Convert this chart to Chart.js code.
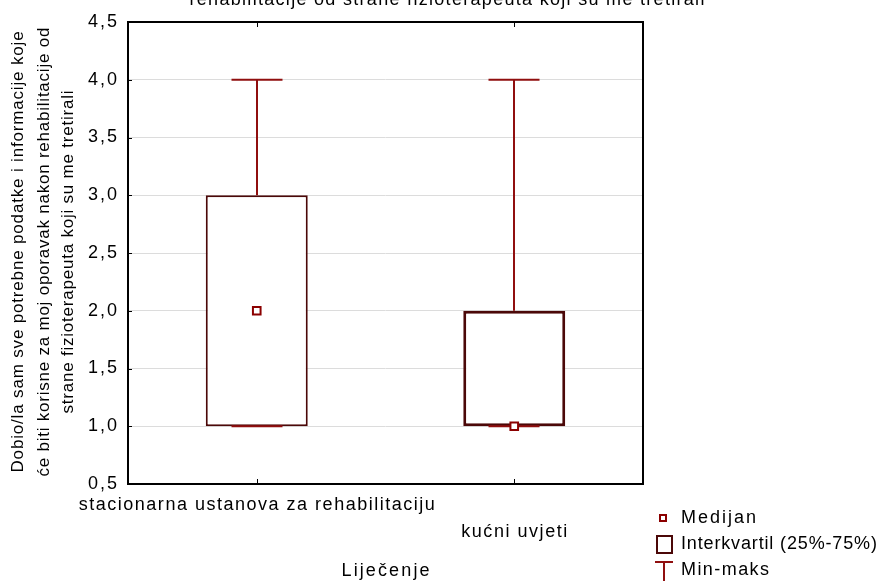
<!DOCTYPE html>
<html>
<head>
<meta charset="utf-8">
<script src="https://cdn.jsdelivr.net/npm/chart.js@4/dist/chart.umd.min.js"></script>
<style>
  html, body { margin: 0; padding: 0; background: #fff; }
  #wrap { width: 884px; height: 581px; }
</style>
</head>
<body>
<div id="wrap"><canvas id="c" width="884" height="581"></canvas></div>
<script>
// Categories and box-plot statistics
const categories = ['stacionarna ustanova za rehabilitaciju', 'kućni uvjeti'];
const minValues = [1, 1];
const q1Values = [1, 1];
const medianValues = [2, 1];
const q3Values = [3, 2];
const maxValues = [4, 4];

// Y axis
const yMin = 0.5;
const yMax = 4.5;
const yStep = 0.5;
const yTickLabels = ['0,5', '1,0', '1,5', '2,0', '2,5', '3,0', '3,5', '4,0', '4,5'];

// Texts
const chartTitle = 'rehabilitacije od strane fizioterapeuta koji su me tretirali';
const yTitleLines = [
  'Dobio/la sam sve potrebne podatke i informacije koje',
  'će biti korisne za moj oporavak nakon rehabilitacije od',
  'strane fizioterapeuta koji su me tretirali'
];
const xTitle = 'Liječenje';
const legendLabels = ['Medijan', 'Interkvartil (25%-75%)', 'Min-maks'];

const FONT = '"Liberation Sans", Arial, sans-serif';
const BOX_COLOR = '#4b0808';
const WHISKER_COLOR = '#900f0f';
const MEDIAN_COLOR = '#8b0000';

// Draw text stretched to a given width by adjusting letter spacing
function spacedText(ctx, text, x, y, width, align) {
  ctx.letterSpacing = '0px';
  const w0 = ctx.measureText(text).width;
  const n = Array.from(text).length;
  const sp = n > 1 ? (width - w0) / (n - 1) : 0;
  ctx.letterSpacing = sp.toFixed(2) + 'px';
  let left = x;
  if (align === 'center') left = x - width / 2;
  else if (align === 'right') left = x - width;
  ctx.textAlign = 'left';
  ctx.fillText(text, left, y);
  ctx.letterSpacing = '0px';
}

const boxPlotPlugin = {
  id: 'boxPlotExtras',
  afterDatasetDraw(chart, args) {
    if (args.meta.type !== 'bar') return;
    const ctx = chart.ctx;
    const xs = chart.scales.x, ys = chart.scales.y;
    ctx.save();
    ctx.strokeStyle = WHISKER_COLOR;
    ctx.lineWidth = 2;
    categories.forEach((c, i) => {
      const x = Math.round(xs.getPixelForValue(i));
      const capHalf = 25.5;
      const yMaxP = ys.getPixelForValue(maxValues[i]);
      const yQ3 = ys.getPixelForValue(q3Values[i]);
      const yQ1 = ys.getPixelForValue(q1Values[i]);
      const yMinP = ys.getPixelForValue(minValues[i]);
      ctx.beginPath();
      ctx.moveTo(x, yMaxP); ctx.lineTo(x, yQ3);
      ctx.moveTo(x, yQ1); ctx.lineTo(x, yMinP);
      ctx.moveTo(x - capHalf, yMaxP); ctx.lineTo(x + capHalf, yMaxP);
      ctx.moveTo(x - capHalf, yMinP); ctx.lineTo(x + capHalf, yMinP);
      ctx.stroke();
    });
    ctx.restore();
  },
  afterDraw(chart) {
    const ctx = chart.ctx;
    const a = chart.chartArea;
    const xs = chart.scales.x, ys = chart.scales.y;
    ctx.save();

    // frame
    ctx.strokeStyle = '#000';
    ctx.lineWidth = 2;
    ctx.strokeRect(a.left, a.top, a.right - a.left, a.bottom - a.top);

    // small inner tick marks
    ctx.lineWidth = 1;
    ctx.beginPath();
    categories.forEach((c, i) => {
      const x = Math.round(xs.getPixelForValue(i)) + 0.5;
      ctx.moveTo(x, a.bottom); ctx.lineTo(x, a.bottom - 5);
      ctx.moveTo(x, a.top); ctx.lineTo(x, a.top + 5);
    });
    ys.ticks.forEach(t => {
      const y = Math.round(ys.getPixelForValue(t.value)) + 0.5;
      ctx.moveTo(a.left, y); ctx.lineTo(a.left + 4, y);
    });
    ctx.stroke();

    ctx.fillStyle = '#000';
    ctx.textBaseline = 'middle';

    // y tick labels
    ctx.font = '18px ' + FONT;
    ys.ticks.forEach((t, i) => {
      const y = ys.getPixelForValue(t.value);
      spacedText(ctx, yTickLabels[i], a.left - 11, y, 29, 'right');
    });

    // x category labels (staggered)
    const xLabelY = [505, 532];
    const xLabelW = [356, 106];
    categories.forEach((c, i) => {
      spacedText(ctx, c, xs.getPixelForValue(i), xLabelY[i], xLabelW[i], 'center');
    });

    // x axis title
    spacedText(ctx, xTitle, (a.left + a.right) / 2, 571, 88, 'center');

    // chart title (partly above the canvas)
    ctx.textBaseline = 'alphabetic';
    spacedText(ctx, chartTitle, 447, 5, 515, 'center');
    ctx.textBaseline = 'middle';

    // y axis title, rotated
    ctx.font = '17px ' + FONT;
    const yTitleX = [18, 44, 68];
    const yTitleW = [441, 449, 323];
    yTitleLines.forEach((line, i) => {
      ctx.save();
      ctx.translate(yTitleX[i], 252);
      ctx.rotate(-Math.PI / 2);
      spacedText(ctx, line, 0, 0, yTitleW[i], 'center');
      ctx.restore();
    });

    // legend
    ctx.lineWidth = 2;
    ctx.fillStyle = '#fff';
    ctx.strokeStyle = MEDIAN_COLOR;
    ctx.fillRect(660, 515, 6, 6);
    ctx.strokeRect(660, 515, 6, 6);
    ctx.strokeStyle = BOX_COLOR;
    ctx.strokeRect(657, 536, 15, 17);
    ctx.strokeStyle = WHISKER_COLOR;
    ctx.beginPath();
    ctx.moveTo(655, 562); ctx.lineTo(673, 562);
    ctx.moveTo(664, 562); ctx.lineTo(664, 581);
    ctx.stroke();

    ctx.fillStyle = '#000';
    ctx.font = '18px ' + FONT;
    spacedText(ctx, legendLabels[0], 681, 518, 75, 'left');
    spacedText(ctx, legendLabels[1], 681, 544, 196, 'left');
    spacedText(ctx, legendLabels[2], 681, 570, 88, 'left');

    ctx.restore();
  }
};

new Chart(document.getElementById('c'), {
  type: 'bar',
  data: {
    labels: categories,
    datasets: [
      {
        type: 'line',
        label: legendLabels[0],
        data: medianValues,
        showLine: false,
        pointStyle: 'rect',
        pointRadius: 5.4,
        pointHoverRadius: 5.4,
        pointBorderWidth: 2,
        pointBorderColor: MEDIAN_COLOR,
        pointBackgroundColor: '#fff',
        order: 1
      },
      {
        type: 'bar',
        label: legendLabels[1],
        data: q1Values.map((q, i) => [q, q3Values[i]]),
        backgroundColor: '#fff',
        borderColor: BOX_COLOR,
        borderWidth: [2, 3],
        borderSkipped: false,
        barPercentage: 0.396,
        categoryPercentage: 1,
        order: 2
      }
    ]
  },
  options: {
    responsive: false,
    devicePixelRatio: 1,
    animation: false,
    layout: { padding: { top: 22, right: 241, bottom: 0, left: 0 } },
    plugins: {
      legend: { display: false },
      tooltip: { enabled: false },
      title: { display: false }
    },
    scales: {
      x: {
        type: 'category',
        offset: true,
        grid: { display: false },
        border: { display: false },
        ticks: { display: false },
        afterFit(s) { s.height = 97; }
      },
      y: {
        min: yMin,
        max: yMax,
        ticks: { stepSize: yStep, display: false },
        grid: { color: '#dcdcdc', lineWidth: 1, drawTicks: false },
        border: { display: false },
        afterFit(s) { s.width = 128; }
      }
    }
  },
  plugins: [boxPlotPlugin]
});
</script>
</body>
</html>
